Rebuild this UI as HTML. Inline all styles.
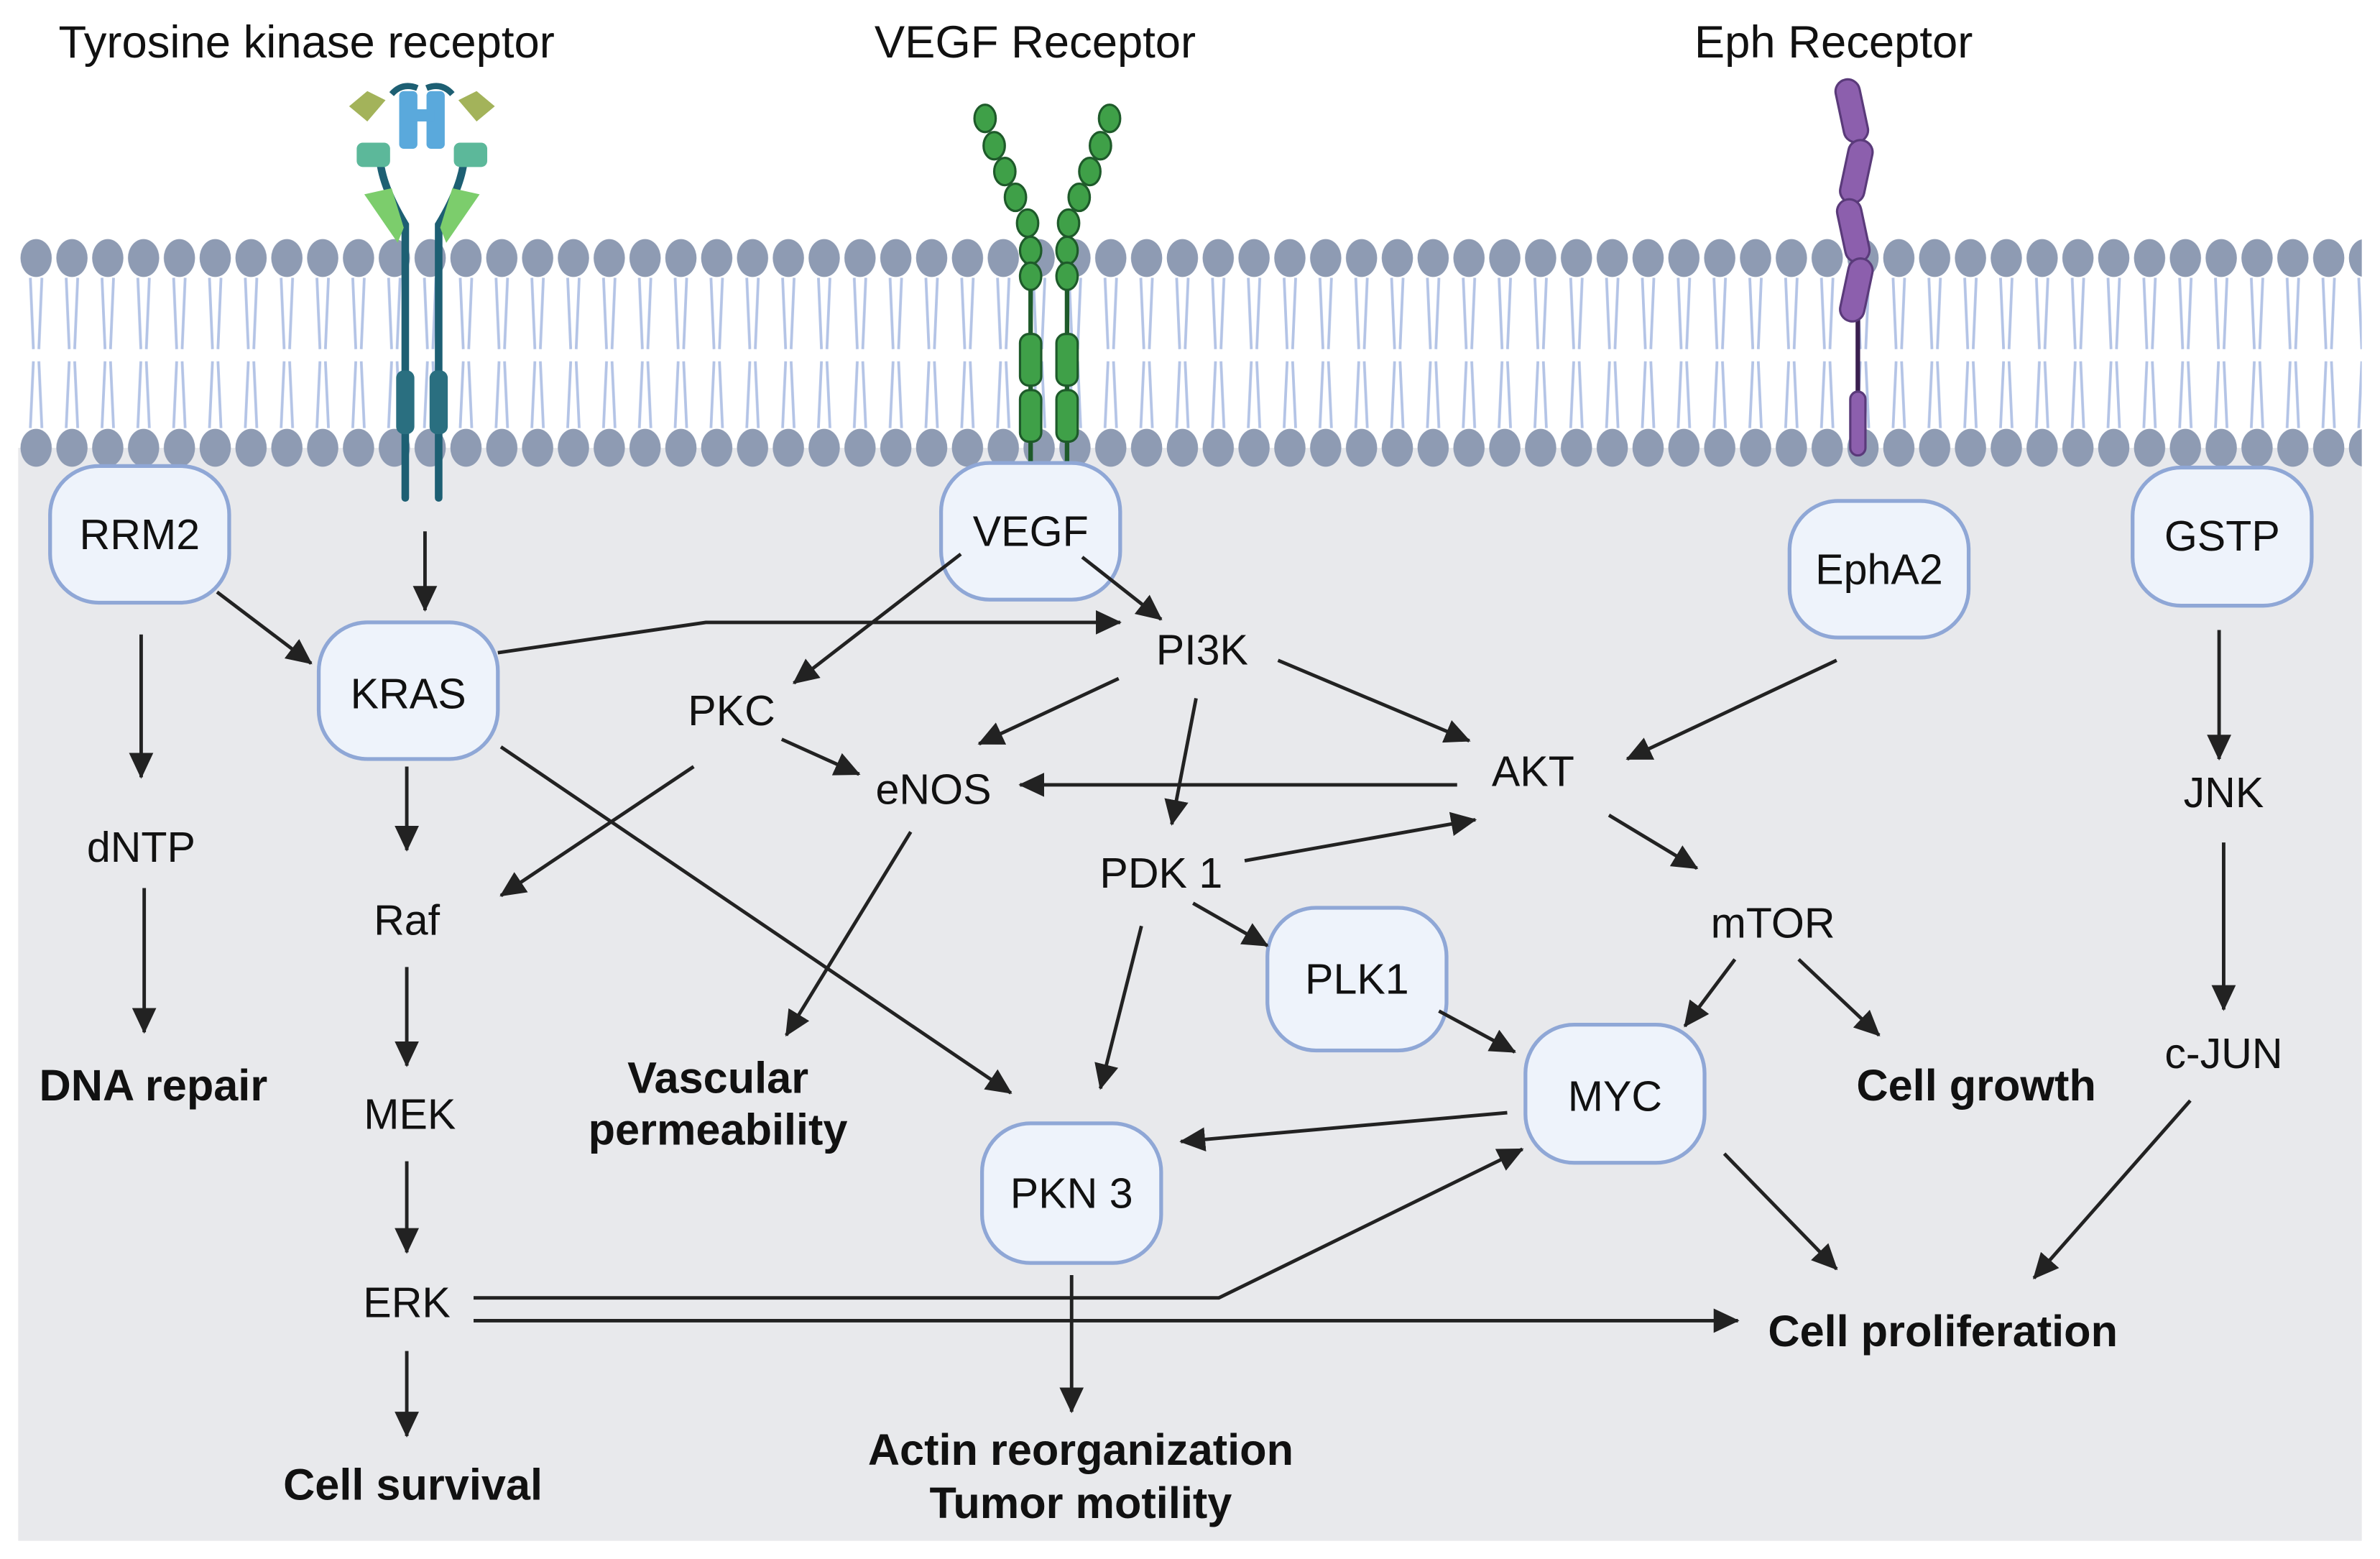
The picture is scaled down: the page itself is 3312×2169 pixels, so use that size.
<!DOCTYPE html>
<html><head><meta charset="utf-8"><style>
html,body{margin:0;padding:0;background:#fff;}
svg{display:block;}
text{font-family:"Liberation Sans",Arial,sans-serif;fill:#111;}
.n{font-size:28px;text-anchor:middle;dominant-baseline:central;}
.t{font-size:30px;text-anchor:middle;dominant-baseline:central;}
.b{font-size:29px;font-weight:bold;text-anchor:middle;dominant-baseline:central;}
.a{stroke:#222;stroke-width:2.3;fill:none;marker-end:url(#ar);}
.bx{fill:#eef3fb;stroke:#8fa7d6;stroke-width:2.5;}
</style></head><body>
<svg width="3312" height="2169" viewBox="0 0 1568 1027" preserveAspectRatio="none" xmlns="http://www.w3.org/2000/svg">
<defs>
<marker id="ar" markerUnits="userSpaceOnUse" markerWidth="18" markerHeight="16" refX="16" refY="8" orient="auto">
<path d="M0,0 L17,8 L0,16 Z" fill="#222"/></marker>
<pattern id="tails" x="12" y="0" width="23.6" height="1027" patternUnits="userSpaceOnUse">
<path d="M8,183 L10,230 M15.6,183 L13.6,230 M8,282 L10,238 M15.6,282 L13.6,238" stroke="#b4c4e6" stroke-width="1.8" fill="none"/>
</pattern>
<pattern id="heads" x="12" y="0" width="23.6" height="1027" patternUnits="userSpaceOnUse">
<ellipse cx="11.8" cy="170" rx="10.3" ry="12.5" fill="#8e9bb3"/>
<ellipse cx="11.8" cy="295" rx="10.3" ry="12.5" fill="#8e9bb3"/>
</pattern>
</defs>
<rect x="12" y="295" width="1544" height="720" fill="#e8e9ec"/>
<rect x="12" y="170" width="1544" height="125" fill="#fff"/>
<rect x="12" y="150" width="1544" height="160" fill="url(#tails)"/>
<rect x="12" y="150" width="1544" height="160" fill="url(#heads)"/>

<text class="t" x="202" y="28">Tyrosine kinase receptor</text>
<text class="t" x="682" y="28">VEGF Receptor</text>
<text class="t" x="1208" y="28">Eph Receptor</text>

<g>
<path d="M267,328 L267,148 Q250,120 250,100 M289,328 L289,148 Q306,120 306,100" stroke="#1d5f73" stroke-width="5" fill="none" stroke-linecap="round"/>
<rect x="261" y="244" width="12" height="42" rx="5" fill="#2a6f80"/>
<rect x="283" y="244" width="12" height="42" rx="5" fill="#2a6f80"/>
<path d="M240,128 L258,124 L266,150 L262,160 Z" fill="#7ccd6c"/>
<path d="M316,128 L298,124 L290,150 L294,160 Z" fill="#7ccd6c"/>
<rect x="235" y="94" width="22" height="16" rx="4" fill="#5cb89a"/>
<rect x="299" y="94" width="22" height="16" rx="4" fill="#5cb89a"/>
<rect x="263" y="60" width="12" height="38" rx="3" fill="#5aa9dc"/>
<rect x="281" y="60" width="12" height="38" rx="3" fill="#5aa9dc"/>
<rect x="270" y="72" width="16" height="8" fill="#5aa9dc"/>
<path d="M258,62 Q265,54 275,58 M298,62 Q291,54 281,58" stroke="#1d5f73" stroke-width="4" fill="none"/>
<path d="M230,70 L242,60 L254,66 L242,80 Z" fill="#a3b35a"/>
<path d="M326,70 L314,60 L302,66 L314,80 Z" fill="#a3b35a"/>
</g>

<g stroke="#1e5a2a" stroke-width="1.5" fill="#3fa048">
<path d="M679,180 L679,305 M703,180 L703,305" stroke-width="3" fill="none"/>
<ellipse cx="649" cy="78" rx="7" ry="9"/><ellipse cx="655" cy="96" rx="7" ry="9"/><ellipse cx="662" cy="113" rx="7" ry="9"/>
<ellipse cx="669" cy="130" rx="7" ry="9"/><ellipse cx="677" cy="147" rx="7" ry="9"/><ellipse cx="679" cy="165" rx="7" ry="9"/><ellipse cx="679" cy="182" rx="7" ry="9"/>
<ellipse cx="731" cy="78" rx="7" ry="9"/><ellipse cx="725" cy="96" rx="7" ry="9"/><ellipse cx="718" cy="113" rx="7" ry="9"/>
<ellipse cx="711" cy="130" rx="7" ry="9"/><ellipse cx="704" cy="147" rx="7" ry="9"/><ellipse cx="703" cy="165" rx="7" ry="9"/><ellipse cx="703" cy="182" rx="7" ry="9"/>
<rect x="672" y="220" width="14" height="34" rx="6"/><rect x="696" y="220" width="14" height="34" rx="6"/>
<rect x="672" y="257" width="14" height="34" rx="6"/><rect x="696" y="257" width="14" height="34" rx="6"/>
</g>

<g stroke="#5a3a7a" stroke-width="1.5" fill="#8c5fad">
<path d="M1224,200 L1224,262" stroke="#3a1f4f" stroke-width="3" fill="none"/>
<rect x="1212" y="52" width="16" height="42" rx="8" transform="rotate(-12 1220 73)"/>
<rect x="1215" y="92" width="16" height="42" rx="8" transform="rotate(12 1223 113)"/>
<rect x="1213" y="131" width="16" height="42" rx="8" transform="rotate(-12 1221 152)"/>
<rect x="1215" y="170" width="16" height="42" rx="8" transform="rotate(12 1223 191)"/>
<rect x="1219" y="258" width="10" height="42" rx="5"/>
</g>

<rect class="bx" x="33" y="307" width="118" height="90" rx="32"/>
<rect class="bx" x="210" y="410" width="118" height="90" rx="32"/>
<rect class="bx" x="620" y="305" width="118" height="90" rx="32"/>
<rect class="bx" x="1179" y="330" width="118" height="90" rx="32"/>
<rect class="bx" x="1405" y="308" width="118" height="91" rx="32"/>
<rect class="bx" x="835" y="598" width="118" height="94" rx="32"/>
<rect class="bx" x="1005" y="675" width="118" height="91" rx="32"/>
<rect class="bx" x="647" y="740" width="118" height="92" rx="32"/>

<text class="n" x="92" y="352">RRM2</text>
<text class="n" x="269" y="457">KRAS</text>
<text class="n" x="679" y="350">VEGF</text>
<text class="n" x="1238" y="375">EphA2</text>
<text class="n" x="1464" y="353">GSTP</text>
<text class="n" x="894" y="645">PLK1</text>
<text class="n" x="1064" y="722">MYC</text>
<text class="n" x="706" y="786">PKN 3</text>

<text class="n" x="792" y="428">PI3K</text>
<text class="n" x="482" y="468">PKC</text>
<text class="n" x="615" y="520">eNOS</text>
<text class="n" x="1010" y="508">AKT</text>
<text class="n" x="765" y="575">PDK 1</text>
<text class="n" x="1168" y="608">mTOR</text>
<text class="n" x="93" y="558">dNTP</text>
<text class="n" x="268" y="606">Raf</text>
<text class="n" x="270" y="734">MEK</text>
<text class="n" x="268" y="858">ERK</text>
<text class="n" x="1465" y="522">JNK</text>
<text class="n" x="1465" y="694">c-JUN</text>

<text class="b" x="101" y="715">DNA repair</text>
<text class="b" x="473" y="710">Vascular</text>
<text class="b" x="473" y="744">permeability</text>
<text class="b" x="1302" y="715">Cell growth</text>
<text class="b" x="272" y="978">Cell survival</text>
<text class="b" x="712" y="955">Actin reorganization</text>
<text class="b" x="712" y="990">Tumor motility</text>
<text class="b" x="1280" y="877">Cell proliferation</text>

<line class="a" x1="280" y1="350" x2="280" y2="402"/>
<line class="a" x1="143" y1="390" x2="205" y2="437"/>
<line class="a" x1="93" y1="418" x2="93" y2="512"/>
<line class="a" x1="95" y1="585" x2="95" y2="680"/>
<polyline class="a" points="328,430 465,410 738,410"/>
<line class="a" x1="633" y1="365" x2="523" y2="450"/>
<line class="a" x1="713" y1="367" x2="765" y2="408"/>
<line class="a" x1="737" y1="447" x2="645" y2="490"/>
<line class="a" x1="842" y1="435" x2="968" y2="488"/>
<line class="a" x1="788" y1="460" x2="772" y2="543"/>
<line class="a" x1="515" y1="487" x2="566" y2="510"/>
<line class="a" x1="457" y1="505" x2="330" y2="590"/>
<line class="a" x1="268" y1="505" x2="268" y2="560"/>
<line class="a" x1="330" y1="492" x2="666" y2="720"/>
<line class="a" x1="600" y1="548" x2="518" y2="682"/>
<line class="a" x1="960" y1="517" x2="672" y2="517"/>
<line class="a" x1="1210" y1="435" x2="1072" y2="500"/>
<line class="a" x1="820" y1="567" x2="972" y2="540"/>
<line class="a" x1="1060" y1="537" x2="1118" y2="572"/>
<line class="a" x1="786" y1="595" x2="835" y2="623"/>
<line class="a" x1="752" y1="610" x2="725" y2="717"/>
<line class="a" x1="1143" y1="632" x2="1110" y2="676"/>
<line class="a" x1="1185" y1="632" x2="1238" y2="682"/>
<line class="a" x1="948" y1="666" x2="998" y2="693"/>
<line class="a" x1="993" y1="733" x2="778" y2="752"/>
<line class="a" x1="1136" y1="760" x2="1210" y2="836"/>
<line class="a" x1="1443" y1="725" x2="1340" y2="842"/>
<line class="a" x1="1462" y1="415" x2="1462" y2="500"/>
<line class="a" x1="1465" y1="555" x2="1465" y2="665"/>
<line class="a" x1="268" y1="637" x2="268" y2="702"/>
<line class="a" x1="268" y1="765" x2="268" y2="825"/>
<line class="a" x1="268" y1="890" x2="268" y2="946"/>
<polyline class="a" points="312,855 803,855 1003,757"/>
<line class="a" x1="312" y1="870" x2="1145" y2="870"/>
<line class="a" x1="706" y1="840" x2="706" y2="930"/>
</svg>
</body></html>
